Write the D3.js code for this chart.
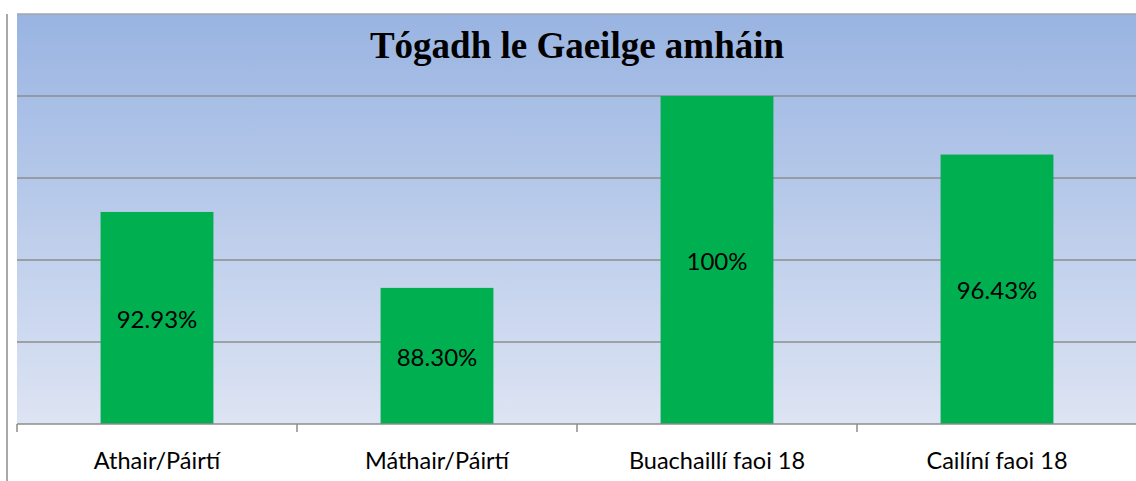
<!DOCTYPE html>
<html>
<head>
<meta charset="utf-8">
<script src="https://cdn.jsdelivr.net/npm/d3@7"></script>
<style>
  body { margin: 0; background: #fff; }
  svg { display: block; }
</style>
</head>
<body>
<script>
var categories = ["Athair/Páirtí", "Máthair/Páirtí", "Buachaillí faoi 18", "Cailíní faoi 18"];
var values = [92.93, 88.30, 100, 96.43];
var valueLabels = ["92.93%", "88.30%", "100%", "96.43%"];
var yTicks = [80, 85, 90, 95, 100];
var title = "Tógadh le Gaeilge amháin";

var width = 1136, height = 481;
// note: "top" is a reserved window property, so use frameTop
var left = 17, right = 1137, frameTop = 14, plotTop = 96, bottom = 424;

var svg = d3.select("body").append("svg")
    .attr("width", width)
    .attr("height", height);

var defs = svg.append("defs");
var grad = defs.append("linearGradient")
    .attr("id", "bg").attr("x1", 0).attr("y1", 0).attr("x2", 0).attr("y2", 1);
grad.append("stop").attr("offset", "0%").attr("stop-color", "#99b4e2");
grad.append("stop").attr("offset", "100%").attr("stop-color", "#dde4f3");

svg.append("rect")
    .attr("x", left).attr("y", frameTop)
    .attr("width", right - left).attr("height", bottom - frameTop)
    .attr("fill", "url(#bg)");

// top border and left frame line
svg.append("line")
    .attr("x1", left).attr("x2", right).attr("y1", frameTop).attr("y2", frameTop)
    .attr("stroke", "#a6a6a6").attr("stroke-width", 1.5);
svg.append("line")
    .attr("x1", 7).attr("x2", 7).attr("y1", frameTop).attr("y2", height)
    .attr("stroke", "#8c8c8c").attr("stroke-width", 1.5);

var x = d3.scaleBand()
    .domain(categories)
    .range([left, right])
    .paddingInner(0.597)
    .paddingOuter(0.2985);

var y = d3.scaleLinear()
    .domain([80, 100])
    .range([bottom, plotTop]);

// gridlines
svg.append("g").selectAll("line")
    .data(yTicks.slice(1))
    .enter().append("line")
    .attr("x1", left).attr("x2", right)
    .attr("y1", function(d) { return y(d); })
    .attr("y2", function(d) { return y(d); })
    .attr("stroke", "#8c8c8c").attr("stroke-width", 1.5);

// bars
svg.append("g").selectAll("rect")
    .data(values)
    .enter().append("rect")
    .attr("x", function(d, i) { return x(categories[i]); })
    .attr("y", function(d) { return y(d); })
    .attr("width", x.bandwidth())
    .attr("height", function(d) { return bottom - y(d); })
    .attr("fill", "#00b050");

// value labels
svg.append("g").selectAll("text")
    .data(values)
    .enter().append("text")
    .attr("x", function(d, i) { return x(categories[i]) + x.bandwidth() / 2; })
    .attr("y", function(d) { return (y(d) + bottom) / 2 + 4; })
    .attr("text-anchor", "middle")
    .attr("dominant-baseline", "middle")
    .attr("font-family", "Lato, 'Open Sans', sans-serif")
    .attr("font-size", 24)
    .attr("fill", "#000")
    .text(function(d, i) { return valueLabels[i]; });

// x axis
var xAxis = svg.append("g")
    .attr("transform", "translate(0," + bottom + ")");
xAxis.append("line")
    .attr("x1", left).attr("x2", right).attr("y1", 0).attr("y2", 0)
    .attr("stroke", "#8c8c8c").attr("stroke-width", 1.5);
var step = x.step();
xAxis.selectAll("line.tick")
    .data(d3.range(categories.length + 1))
    .enter().append("line")
    .attr("class", "tick")
    .attr("x1", function(i) { return left + i * step; })
    .attr("x2", function(i) { return left + i * step; })
    .attr("y1", 0).attr("y2", 8)
    .attr("stroke", "#8c8c8c").attr("stroke-width", 1.5);
xAxis.selectAll("text")
    .data(categories)
    .enter().append("text")
    .attr("x", function(d) { return x(d) + x.bandwidth() / 2; })
    .attr("y", 45)
    .attr("text-anchor", "middle")
    .attr("font-family", "Lato, 'Open Sans', sans-serif")
    .attr("font-size", 23.5)
    .attr("fill", "#000")
    .text(function(d) { return d; });

// title
svg.append("text")
    .attr("x", 577).attr("y", 58)
    .attr("text-anchor", "middle")
    .attr("font-family", "'Liberation Serif', 'Times New Roman', serif")
    .attr("font-weight", "bold")
    .attr("font-size", 37)
    .attr("fill", "#000")
    .text(title);
</script>
</body>
</html>
